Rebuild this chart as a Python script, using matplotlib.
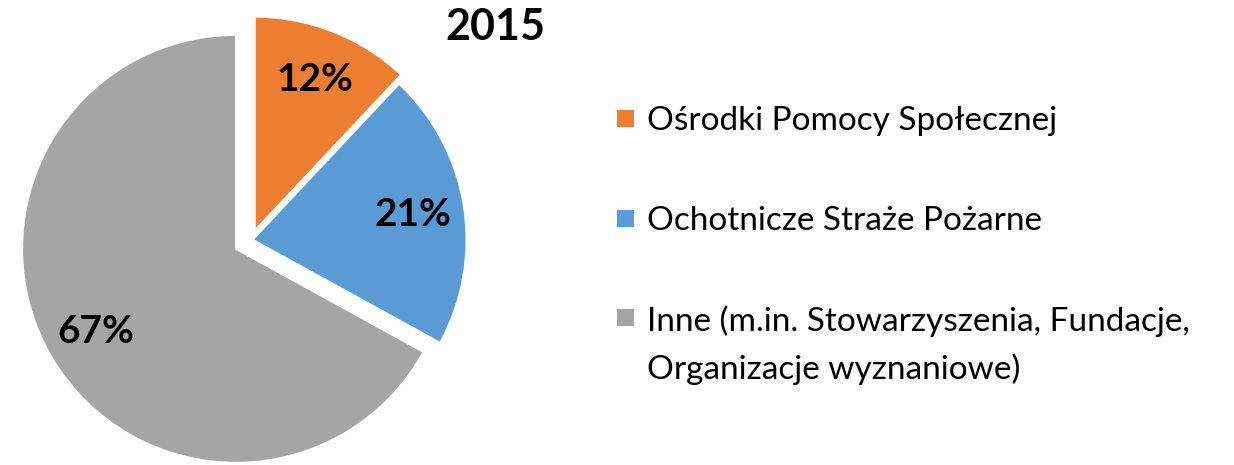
import matplotlib
matplotlib.use("Agg")
import matplotlib.pyplot as plt
from matplotlib.patches import Rectangle

# ---- data ----
categories = ["Ośrodki Pomocy Społecznej",
              "Ochotnicze Straże Pożarne",
              "Inne (m.in. Stowarzyszenia, Fundacje,\nOrganizacje wyznaniowe)"]
values = [12, 21, 67]
colors = ["#ED7D31", "#5B9BD5", "#A5A5A5"]
title = "2015"

# ---- layout (pixel space) ----
W, H = 1234, 465
fig = plt.figure(figsize=(W / 100, H / 100), dpi=100)
ax = fig.add_axes([0, 0, 1, 1])

R = 214
center = (251, H - 240)
explode = [10, 1.6, 17.4]   # pixel offsets of each slice

wedges, texts, autotexts = ax.pie(
    values, colors=colors, startangle=90, counterclock=False,
    radius=R, center=center, explode=explode, frame=True,
    autopct="%.0f%%", pctdistance=0.76,
    wedgeprops=dict(edgecolor="white", linewidth=1.5),
    textprops=dict(fontsize=28, fontweight="bold", family="Lato", color="black"))

ax.set_xlim(0, W)
ax.set_ylim(0, H)
ax.set_aspect("equal")
ax.axis("off")

ax.text(495, H - 27, title, fontsize=31, fontweight="bold", family="Lato",
        ha="center", va="center")

# legend (manual, marker aligned with first text line)
row_y = [119, 219, 318]
sq = 17
for lab, col, y in zip(categories, colors, row_y):
    ax.add_patch(Rectangle((617, H - y - sq / 2), sq, sq, facecolor=col,
                           edgecolor="none"))
    ax.text(647, H - y + 13, lab, fontsize=24, family="Lato",
            ha="left", va="top", linespacing=1.65)

fig.savefig("out.png", dpi=100)
